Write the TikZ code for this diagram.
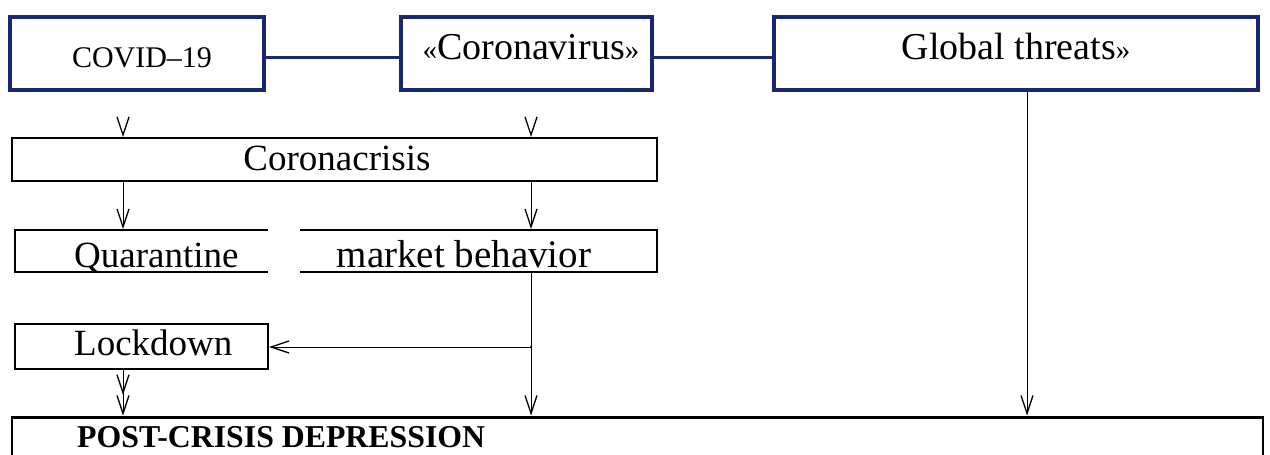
\documentclass[tikz,border=0pt]{standalone}
\usepackage{fontspec}
\setmainfont{Liberation Serif}
\usetikzlibrary{arrows.meta}
\definecolor{navy}{RGB}{25,40,110}
\begin{document}
\begin{tikzpicture}[x=1pt,y=-1pt,
  topbox/.style={draw=navy, line width=3.5pt, inner sep=0pt},
  blkbox/.style={draw=black, line width=2pt, inner sep=0pt},
  openbox/.style={inner sep=0pt, outer sep=0pt},
  navyline/.style={draw=navy, line width=3pt},
  edge2/.style={draw=black, line width=2pt},
  arr/.style={draw=black, line width=1pt, -{Straight Barb[length=18pt,width=12pt,sep=0pt,line width=1.3pt]}},
  arrtwo/.style={draw=black, line width=1pt, -{Straight Barb[length=18pt,width=12pt,sep=0pt,line width=1.3pt]Straight Barb[length=18pt,width=12pt,sep=0pt,line width=1.3pt]}},
  lbl/.style={inner sep=0pt, anchor=base, font=\fontsize{37}{37}\selectfont},
  lblw/.style={inner sep=0pt, anchor=base west, font=\fontsize{37}{37}\selectfont}
]
\useasboundingbox (0,0) rectangle (1270,455);

% top row
\node[topbox, minimum width=254pt, minimum height=73pt] (covid) at (137,53.5) {};
\node[topbox, minimum width=251pt, minimum height=73pt] (corona) at (526.5,53.5) {};
\node[topbox, minimum width=484pt, minimum height=73pt] (global) at (1016,53.5) {};
\node[lbl, font=\fontsize{30}{30}\selectfont] (tcovid) at (142,67) {COVID–19};
\node[lbl, font=\fontsize{38}{38}\selectfont] (tcorona) at (531,59) {{\fontsize{29}{29}\selectfont«}Coronavirus{\fontsize{29}{29}\selectfont»}};
\node[lbl, font=\fontsize{38}{38}\selectfont] (tglobal) at (1016,59) {Global threats{\fontsize{29}{29}\selectfont»}};
\draw[navyline] ([yshift=-3.5pt]covid.east) -- ([yshift=-3.5pt]corona.west);
\draw[navyline] ([yshift=-3.5pt]corona.east) -- ([yshift=-3.5pt]global.west);

% Coronacrisis
\node[blkbox, minimum width=645pt, minimum height=43pt] (cc) at (334.5,159.5) {};
\node[lbl, font=\fontsize{37}{37}\selectfont] (tcc) at (337,170) {Coronacrisis};

% Quarantine / market behavior (open boxes)
\node[openbox, minimum width=253pt, minimum height=42pt] (quar) at (141.5,251) {};
\draw[edge2] (quar.north east) -- (quar.north west) -- (quar.south west) -- (quar.south east);
\node[lblw] (tquar) at (74,267) {Quarantine};
\node[openbox, minimum width=357pt, minimum height=42pt] (market) at (478.5,251) {};
\draw[edge2] (market.north west) -- (market.north east) -- (market.south east) -- (market.south west);
\node[lbl, font=\fontsize{39}{39}\selectfont] (tmarket) at (464,267) {market behavior};

% Lockdown
\node[blkbox, minimum width=253pt, minimum height=45pt] (lock) at (141.5,346.5) {};
\node[lblw] (tlock) at (74,355) {Lockdown};

% Post-crisis depression
\node[openbox, minimum width=1251pt, minimum height=63pt] (pcd) at (637.5,448.5) {};
\draw[draw=black, line width=3pt] (pcd.north west) -- (pcd.north east);
\draw[edge2] ([yshift=1pt]pcd.north west) -- (pcd.south west);
\draw[edge2] ([yshift=1pt]pcd.north east) -- (pcd.south east);
\node[inner sep=0pt, anchor=base west, font=\fontsize{31.8}{31.8}\selectfont\bfseries] (tpcd) at (77,447) {POST-CRISIS DEPRESSION};

% arrows
\coordinate (v1) at (123,134.5);
\coordinate (v2) at (531,134.5);
\draw[arr] (v1) -- (cc.north -| v1);
\draw[arr] (v2) -- (cc.north -| v2);
\draw[arr] (cc.south -| v1) -- ([yshift=1pt]quar.north -| v1);
\draw[arr] (cc.south -| v2) -- ([yshift=1pt]market.north -| v2);
\coordinate (j) at (531,347);
\draw[arr] (market.south -| v2) -- ([yshift=1.5pt]pcd.north -| v2);
\draw[arr] (j) -- (lock.east |- j);
\fill (j) circle (1.2pt);
\draw[arrtwo] (lock.south -| v1) -- ([yshift=1.5pt]pcd.north -| v1);
\draw[arr] (global.south -| 1027,0) -- ([yshift=1.5pt]pcd.north -| 1027,0);
\end{tikzpicture}
\end{document}
